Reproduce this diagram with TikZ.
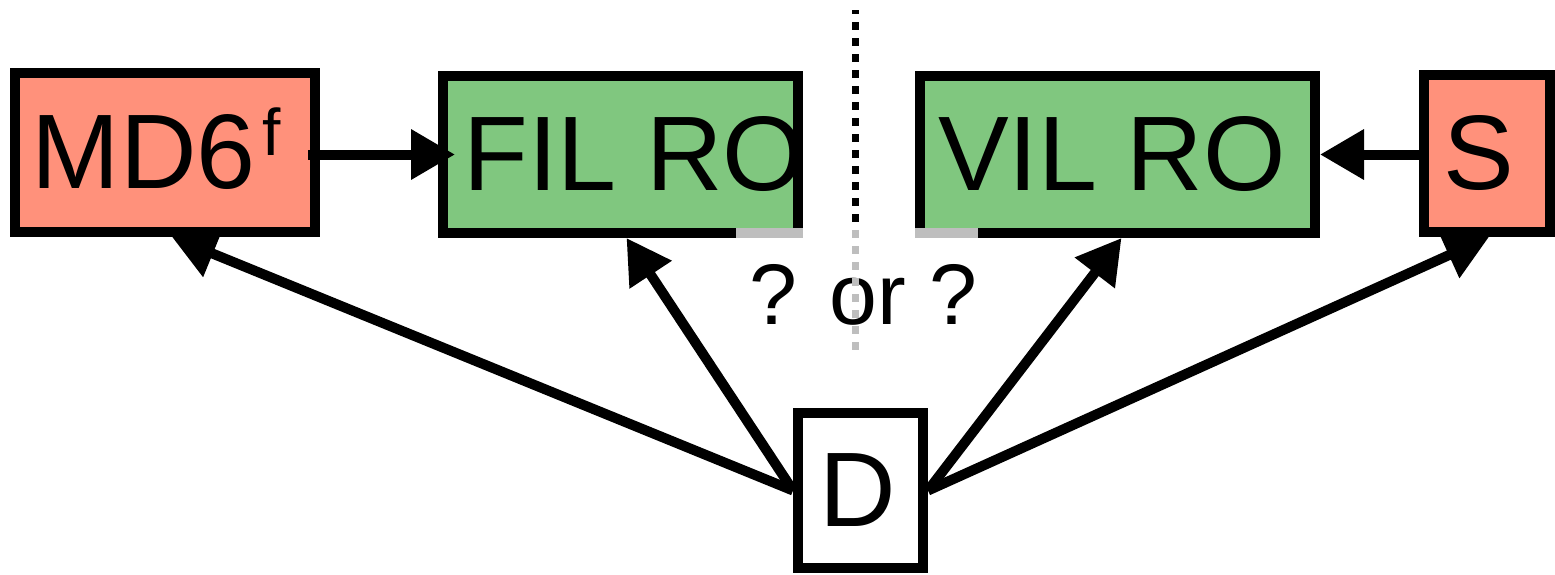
\documentclass[tikz,border=0pt]{standalone}
\usepackage{fontspec}
\setmainfont{Liberation Sans}
\usetikzlibrary{arrows.meta,backgrounds}

\definecolor{salmon}{HTML}{FF917B}
\definecolor{leaf}{HTML}{80C77F}
\definecolor{lgray}{HTML}{BEBEBE}

\begin{document}
\begin{tikzpicture}[
  x=1pt, y=-1pt,
  bigfont/.style={font=\fontsize{106}{110}\selectfont},
  box/.style={draw, line width=10pt, inner sep=0pt, minimum height=157pt},
  redbox/.style={box, fill=salmon},
  greenbox/.style={box, fill=leaf},
  arr/.style={line width=10pt, -{Triangle[length=44pt,width=48pt]}},
]
\useasboundingbox (0,0) rectangle (1555,574);

% ===================================================================
% Boxes
% ===================================================================
\node[redbox, minimum width=300pt, minimum height=159pt,
  label={[bigfont, xshift=-8.5pt]center:MD6\kern7pt\raisebox{33pt}[0pt][0pt]{\fontsize{66}{66}\selectfont f}}]
  (md6) at (165,152.5) {};
\node[greenbox, minimum width=355pt,
  label={[bigfont, xshift=14pt]center:FIL RO}] (fil) at (620.5,154.5) {};
\node[greenbox, minimum width=395pt,
  label={[bigfont, xshift=-5.5pt]center:VIL RO}] (vil) at (1117.5,154.5) {};
\node[redbox, minimum width=126pt,
  label={[bigfont, xshift=-8pt]center:S}] (s) at (1487,153.5) {};
\node[box, fill=white, minimum width=125pt, minimum height=155pt,
  label={[bigfont, xshift=-3pt]center:D}] (d) at (860.5,490.5) {};

% light strips on the lower borders
\fill[lgray] ([xshift=-67pt]fil.south east) rectangle ([yshift=10pt]fil.south east);
\fill[lgray] (vil.south west) rectangle ([xshift=63pt,yshift=10pt]vil.south west);

% ===================================================================
% Arrows
% ===================================================================
\begin{scope}[on background layer]
  \draw[arr] (d.west) -- ([xshift=7pt]md6.south);
  \draw[arr] (d.west) -- ([xshift=6pt]fil.south);
  \draw[arr] (d.east) -- ([xshift=4pt]vil.south);
  \draw[arr] (d.east) -- ([xshift=2pt]s.south);
\end{scope}
\draw[arr, shorten <=-12pt, shorten >=-17pt] (md6.east |- fil.west) -- (fil.west);
\draw[arr] (s.west |- vil.east) -- (vil.east);

% ===================================================================
% Divider and question
% ===================================================================
\node[font=\fontsize{86}{90}\selectfont, anchor=base, inner sep=0pt] (q) at (863.5,324) {? or ?};
\coordinate (top) at (855,10);
\coordinate (mid) at (855,226);
\coordinate (bot) at (855,350);
\draw[line width=7pt, dash pattern=on 8pt off 8pt, dash phase=4pt] (top) -- (mid);
\draw[lgray, line width=7pt, dash pattern=on 8pt off 8pt, dash phase=12pt] (mid) -- (bot);

\end{tikzpicture}
\end{document}
